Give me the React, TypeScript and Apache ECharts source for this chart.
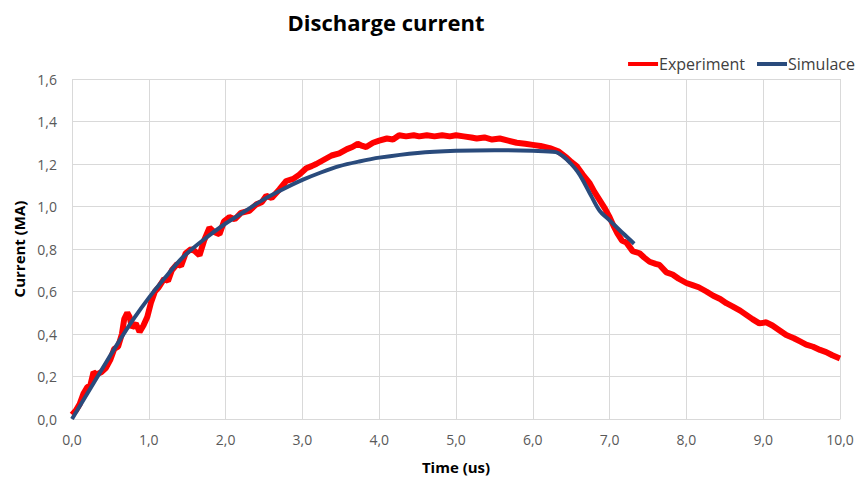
import React, { useEffect, useRef } from "react";
import * as echarts from "echarts";

const title = "Discharge current";
const xName = "Time (us)";
const yName = "Current (MA)";
const seriesNames = ["Experiment", "Simulace"];

const expTime = [
  0.0, 0.05, 0.1, 0.15, 0.2, 0.24, 0.28, 0.32, 0.38, 0.44, 0.5, 0.55, 0.6, 0.65, 0.68, 0.72, 0.75, 0.78, 0.83, 0.88,
  0.93, 0.98, 1.03, 1.08, 1.13, 1.2, 1.25, 1.3, 1.37, 1.42, 1.48, 1.55, 1.6, 1.66, 1.72, 1.79, 1.85, 1.92, 1.98, 2.05,
  2.12, 2.2, 2.31, 2.4, 2.47, 2.53, 2.6, 2.7, 2.79, 2.88, 2.96, 3.05, 3.12, 3.18, 3.28, 3.38, 3.48, 3.58, 3.65, 3.72,
  3.78, 3.83, 3.92, 4.0, 4.1, 4.18, 4.26, 4.35, 4.45, 4.52, 4.62, 4.72, 4.82, 4.92, 5.0, 5.1, 5.2, 5.27, 5.37, 5.47,
  5.57, 5.68, 5.79, 5.9, 6.0, 6.1, 6.22, 6.33, 6.44, 6.5, 6.57, 6.65, 6.74, 6.8, 6.87, 6.94, 7.0, 7.05, 7.1, 7.16,
  7.22, 7.3, 7.39, 7.45, 7.52, 7.6, 7.65, 7.74, 7.82, 7.9, 8.0, 8.08, 8.16, 8.26, 8.35, 8.44, 8.52, 8.6, 8.7, 8.78,
  8.86, 8.95, 9.04, 9.12, 9.2, 9.3, 9.4, 9.48, 9.56, 9.65, 9.74, 9.82, 9.9, 10.0,
];
const expCurrent = [
  0.02, 0.04, 0.07, 0.12, 0.15, 0.16, 0.22, 0.21, 0.22, 0.24, 0.28, 0.33, 0.34, 0.4, 0.47, 0.5, 0.48, 0.43, 0.45, 0.41,
  0.44, 0.48, 0.55, 0.6, 0.62, 0.66, 0.65, 0.7, 0.73, 0.72, 0.78, 0.8, 0.79, 0.77, 0.84, 0.9, 0.88, 0.87, 0.93, 0.95,
  0.94, 0.97, 0.98, 1.01, 1.02, 1.05, 1.04, 1.08, 1.12, 1.13, 1.15, 1.18, 1.19, 1.2, 1.22, 1.24, 1.25, 1.27, 1.28, 1.295,
  1.285, 1.28, 1.3, 1.31, 1.32, 1.315, 1.335, 1.33, 1.335, 1.33, 1.335, 1.33, 1.335, 1.33, 1.335, 1.33, 1.325, 1.32, 1.325, 1.315,
  1.32, 1.31, 1.3, 1.295, 1.29, 1.285, 1.275, 1.26, 1.23, 1.21, 1.19, 1.15, 1.11, 1.07, 1.03, 0.99, 0.95, 0.91, 0.875, 0.84,
  0.83, 0.79, 0.78, 0.76, 0.74, 0.73, 0.725, 0.69, 0.68, 0.66, 0.64, 0.63, 0.62, 0.6, 0.58, 0.565, 0.545, 0.53, 0.51, 0.49,
  0.47, 0.45, 0.455, 0.44, 0.42, 0.395, 0.38, 0.365, 0.35, 0.34, 0.325, 0.315, 0.3, 0.285,
];

const simTime = [
  0.0, 0.2, 0.4, 0.62, 0.8, 1.0, 1.2, 1.44, 1.7, 2.0, 2.24, 2.48, 2.74, 3.0, 3.24, 3.48, 3.74, 4.0, 4.5, 5.0,
  5.5, 6.0, 6.3, 6.4, 6.5, 6.58, 6.65, 6.76, 6.87, 7.0, 7.17, 7.32,
];
const simCurrent = [
  0.0, 0.12, 0.24, 0.37, 0.47, 0.57, 0.66, 0.76, 0.84, 0.92, 0.975, 1.03, 1.08, 1.125, 1.16, 1.19, 1.212, 1.23, 1.252, 1.262,
  1.265, 1.262, 1.256, 1.235, 1.2, 1.165, 1.125, 1.05, 0.98, 0.935, 0.875, 0.825,
];

const FONT = "'Open Sans', sans-serif";
const fmt = (v: number) => v.toFixed(1).replace(".", ",");

export default function App() {
  const ref = useRef<HTMLDivElement>(null);
  useEffect(() => {
    if (!ref.current) return;
    const chart = echarts.init(ref.current, undefined, { renderer: "svg" });
    chart.setOption({
      animation: false,
      backgroundColor: "#ffffff",
      textStyle: { fontFamily: FONT },
      title: {
        text: title,
        left: 381,
        top: 6,
        textAlign: "center",
        textStyle: { fontFamily: FONT, fontSize: 22, fontWeight: "bold", color: "#000000" },
      },
      legend: {
        right: 1,
        top: 51,
        icon: "rect",
        itemWidth: 30,
        itemHeight: 4,
        itemGap: 12,
        textStyle: { fontFamily: FONT, fontSize: 16, color: "#404040", padding: [0, 0, 0, -4] },
        data: seriesNames,
      },
      grid: { left: 72, right: 21, top: 79, bottom: 61 },
      xAxis: {
        type: "value",
        min: 0,
        max: 10,
        interval: 1,
        name: xName,
        nameLocation: "middle",
        nameGap: 40,
        nameTextStyle: { fontFamily: FONT, fontSize: 15, fontWeight: "bold", color: "#000000" },
        axisLine: { show: true, lineStyle: { color: "#d9d9d9", width: 1 } },
        axisTick: { show: false },
        splitLine: { show: true, lineStyle: { color: "#d9d9d9", width: 1 } },
        axisLabel: { formatter: fmt, fontFamily: FONT, fontSize: 14, color: "#595959", margin: 13 },
      },
      yAxis: {
        type: "value",
        min: 0,
        max: 1.6,
        interval: 0.2,
        name: yName,
        nameLocation: "middle",
        nameGap: 46,
        nameTextStyle: { fontFamily: FONT, fontSize: 15, fontWeight: "bold", color: "#000000" },
        axisLine: { show: false },
        axisTick: { show: false },
        splitLine: { show: true, lineStyle: { color: "#d9d9d9", width: 1 } },
        axisLabel: { formatter: fmt, fontFamily: FONT, fontSize: 14, color: "#595959", margin: 15 },
      },
      series: [
        {
          name: seriesNames[0],
          type: "line",
          showSymbol: false,
          symbol: "none",
          data: expTime.map((t, i) => [t, expCurrent[i]]),
          lineStyle: { color: "#ff0000", width: 6 },
          itemStyle: { color: "#ff0000" },
        },
        {
          name: seriesNames[1],
          type: "line",
          showSymbol: false,
          symbol: "none",
          smooth: 0.3,
          data: simTime.map((t, i) => [t, simCurrent[i]]),
          lineStyle: { color: "#2a4b7c", width: 4 },
          itemStyle: { color: "#2a4b7c" },
        },
      ],
    });
    return () => chart.dispose();
  }, []);
  return <div ref={ref} style={{ width: 861, height: 480, position: "absolute", left: 0, top: 0 }} />;
}
